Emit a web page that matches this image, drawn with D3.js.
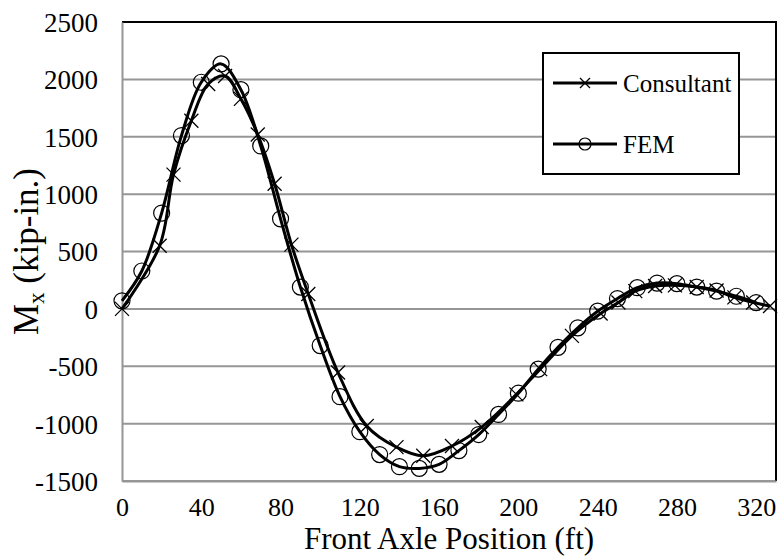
<!DOCTYPE html>
<html>
<head>
<meta charset="utf-8">
<script src="https://cdn.jsdelivr.net/npm/d3@7"></script>
<style>
  html, body { margin: 0; padding: 0; background: #fff; }
  svg { display: block; }
  text { font-family: "Liberation Serif", "Times New Roman", serif; fill: #000; }
</style>
</head>
<body>
<svg id="chart" width="781" height="556"></svg>
<script>
// ---- data ----
const xTicks = [0, 40, 80, 120, 160, 200, 240, 280, 320];
const yTicks = [-1500, -1000, -500, 0, 500, 1000, 1500, 2000, 2500];

const consultantX = [0, 19, 26, 35, 43.5, 52, 60, 68.5, 77, 85.5, 94, 109, 123.5, 138.5, 152, 166.5, 181.5, 199, 211, 227, 241.5, 250.5, 259, 269, 279, 290, 300, 309, 318.5, 327];
const consultantY = [0, 550, 1170, 1640, 1960, 2030, 1830, 1520, 1090, 560, 130, -555, -1020, -1205, -1280, -1195, -1030, -745, -525, -235, -40, 55, 155, 200, 205, 190, 160, 100, 55, 25];

const femX = [0, 10, 20, 30, 40, 50, 60, 70, 80, 90, 100, 110, 120, 130, 140, 150, 160, 170, 180, 190, 200, 210, 220, 230, 240, 250, 260, 270, 280, 290, 300, 310, 320];
const femY = [70, 330, 835, 1510, 1975, 2135, 1910, 1420, 785, 190, -320, -765, -1070, -1270, -1375, -1390, -1355, -1235, -1095, -920, -735, -525, -335, -165, -20, 90, 185, 225, 220, 190, 155, 110, 55];

const seriesNames = ["Consultant", "FEM"];

// ---- layout ----
const svg = d3.select("#chart");
const m = { left: 122, right: 776, top: 22, bottom: 481 };
const serif = "'Liberation Serif', 'Times New Roman', serif";
const grid = "#969696";

const x = d3.scaleLinear().domain([0, 330]).range([m.left, m.right]);
const y = d3.scaleLinear().domain([-1500, 2500]).range([m.bottom, m.top]);

// gridlines
svg.append("g")
  .selectAll("line")
  .data(yTicks)
  .join("line")
  .attr("x1", m.left).attr("x2", m.right)
  .attr("y1", d => y(d)).attr("y2", d => y(d))
  .attr("stroke", grid).attr("stroke-width", 2);

// top & right frame (black)
svg.append("path")
  .attr("d", `M${m.left},${m.top}H${m.right}V${m.bottom}`)
  .attr("fill", "none").attr("stroke", "#000").attr("stroke-width", 2);

// axes (gray lines, no ticks)
const fmt = d => String(d);
const yAxis = d3.axisLeft(y).tickValues(yTicks).tickSize(0).tickPadding(24).tickFormat(fmt);
const gy = svg.append("g").attr("transform", `translate(${m.left},0)`).call(yAxis);
gy.attr("font-family", serif);
gy.select(".domain").attr("stroke", grid).attr("stroke-width", 2);
gy.selectAll("text").attr("font-size", 27).style("font-family", serif).attr("dy", "0.35em");

const xAxis = d3.axisBottom(x).tickValues(xTicks).tickSize(0).tickPadding(17).tickFormat(fmt);
const gx = svg.append("g").attr("transform", `translate(0,${m.bottom})`).call(xAxis);
gx.attr("font-family", serif);
gx.select(".domain").attr("stroke", grid).attr("stroke-width", 2);
gx.selectAll("text").attr("font-size", 26).style("font-family", serif);

// lines
const line = d3.line().x(d => x(d[0])).y(d => y(d[1])).curve(d3.curveCatmullRom.alpha(0.5));
const consultant = consultantX.map((v, i) => [v, consultantY[i]]);
const fem = femX.map((v, i) => [v, femY[i]]);

svg.append("path").datum(consultant).attr("d", line)
  .attr("fill", "none").attr("stroke", "#000").attr("stroke-width", 3);
svg.append("path").datum(fem).attr("d", line)
  .attr("fill", "none").attr("stroke", "#000").attr("stroke-width", 3);

// markers
const xs = 7;
svg.append("g").selectAll("path").data(consultant).join("path")
  .attr("d", d => `M${x(d[0]) - xs},${y(d[1]) - xs}L${x(d[0]) + xs},${y(d[1]) + xs}M${x(d[0]) - xs},${y(d[1]) + xs}L${x(d[0]) + xs},${y(d[1]) - xs}`)
  .attr("stroke", "#000").attr("stroke-width", 1.3).attr("fill", "none");

svg.append("g").selectAll("circle").data(fem).join("circle")
  .attr("cx", d => x(d[0])).attr("cy", d => y(d[1])).attr("r", 8)
  .attr("fill", "none").attr("stroke", "#000").attr("stroke-width", 1.2);

// legend
const lg = svg.append("g");
lg.append("rect").attr("x", 543).attr("y", 53).attr("width", 196).attr("height", 121)
  .attr("fill", "#fff").attr("stroke", "#000").attr("stroke-width", 2);
const legY = [83, 144];
seriesNames.forEach((name, i) => {
  const yy = legY[i];
  lg.append("line").attr("x1", 553).attr("x2", 617).attr("y1", yy).attr("y2", yy)
    .attr("stroke", "#000").attr("stroke-width", 3);
  if (i === 0) {
    const s = 5;
    lg.append("path").attr("d", `M${585 - s},${yy - s}L${585 + s},${yy + s}M${585 - s},${yy + s}L${585 + s},${yy - s}`)
      .attr("stroke", "#000").attr("stroke-width", 1.3);
  } else {
    lg.append("circle").attr("cx", 585).attr("cy", yy).attr("r", 6)
      .attr("fill", "none").attr("stroke", "#000").attr("stroke-width", 1.2);
  }
  lg.append("text").attr("x", 623).attr("y", yy).attr("dy", "0.35em")
    .attr("font-size", 25).style("font-family", serif).text(name);
});

// axis titles
svg.append("text").attr("x", (m.left + m.right) / 2).attr("y", 549)
  .attr("text-anchor", "middle").attr("font-size", 31).style("font-family", serif)
  .text("Front Axle Position (ft)");

const yt = svg.append("text")
  .attr("transform", `translate(38,${(m.top + m.bottom) / 2}) rotate(-90)`)
  .attr("text-anchor", "middle").attr("font-size", 35).style("font-family", serif);
yt.append("tspan").text("M");
yt.append("tspan").attr("font-size", 23).attr("dy", 6).text("x");
yt.append("tspan").attr("dy", -6).text(" (kip-in.)");
</script>
</body>
</html>
